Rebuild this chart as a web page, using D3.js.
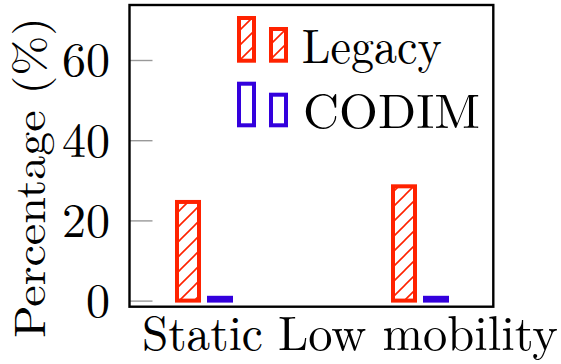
<!DOCTYPE html>
<html><head><meta charset="utf-8">
<script src="https://cdn.jsdelivr.net/npm/d3@7"></script>
<style>html,body{margin:0;padding:0;background:#fff;}svg{display:block;}</style>
</head><body>
<script>
const categories = ["Static", "Low mobility"];
const seriesNames = ["Legacy", "CODIM"];
const legacyValues = [24.6, 28.5];
const codimValues = [0.7, 0.7];
const yTicks = [0, 20, 40, 60];

const W = 561, H = 364;
const FONT = "'Latin Modern Roman','CMU Serif','Liberation Serif','DejaVu Serif',serif";
const RED = "#ff2200", BLUE = "#3300dd";

const svg = d3.select("body").append("svg").attr("width", W).attr("height", H);
const defs = svg.append("defs");
const pat = defs.append("pattern").attr("id", "hatch")
  .attr("patternUnits", "userSpaceOnUse").attr("width", 15).attr("height", 15);
pat.append("path").attr("d", "M-2,2 L2,-2 M0,15 L15,0 M13,17 L17,13")
  .attr("stroke", RED).attr("stroke-width", 1.6);

const frame = {left: 129.5, right: 493.3, top: 5, bottom: 306.7};
const x = d3.scalePoint().domain(categories).range([204, 420]);
const y = d3.scaleLinear().domain([0, 60]).range([300.6, 60]);

// ticks (inside)
const yAxis = d3.axisRight(y).tickValues(yTicks).tickSize(23).tickFormat("");
const ga = svg.append("g").attr("transform", `translate(${frame.left},0)`).call(yAxis);
ga.select(".domain").remove();
ga.selectAll(".tick line").attr("stroke", "#999").attr("stroke-width", 1.4);

svg.append("g").selectAll("text").data(yTicks).join("text")
  .attr("x", 110).attr("y", d => y(d)).attr("dy", "0.34em")
  .attr("text-anchor", "end").attr("font-family", FONT).attr("font-size", 48)
  .text(d => d);

const bw = 22, off = 16, sw = 4;
const series = [
  {name: seriesNames[0], values: legacyValues, color: RED, fill: "url(#hatch)", dx: -off},
  {name: seriesNames[1], values: codimValues, color: BLUE, fill: "#fff", dx: off}
];
series.forEach(s => {
  svg.append("g").selectAll("rect").data(categories).join("rect")
    .attr("x", (c) => x(c) + s.dx - bw / 2)
    .attr("width", bw)
    .attr("y", (c, i) => y(s.values[i]))
    .attr("height", (c, i) => y(0) - y(s.values[i]))
    .attr("fill", s.fill).attr("stroke", s.color).attr("stroke-width", sw);
});

// frame
svg.append("rect").attr("x", frame.left).attr("y", frame.top)
  .attr("width", frame.right - frame.left).attr("height", frame.bottom - frame.top)
  .attr("fill", "none").attr("stroke", "#000").attr("stroke-width", 2.4);

// x labels
const xl = [{w: 121}, {w: 280}];
svg.append("g").selectAll("text").data(categories).join("text")
  .attr("x", (c, i) => i === 0 ? 202.4 : 418).attr("y", 350)
  .attr("text-anchor", "middle").attr("font-family", FONT).attr("font-size", 48)
  .attr("textLength", (c, i) => xl[i].w).attr("lengthAdjust", "spacingAndGlyphs")
  .text(c => c);

// y label
svg.append("text").attr("transform", "translate(45,177.5) rotate(-90)")
  .attr("text-anchor", "middle").attr("font-family", FONT).attr("font-size", 44)
  .attr("textLength", 321).attr("lengthAdjust", "spacingAndGlyphs")
  .text("Percentage (%)");

// legend
const leg = [
  {s: series[0], top1: 18, top2: 29, base: 60.7, ty: 62.7, tw: 140, tx: 301.7},
  {s: series[1], top1: 83.7, top2: 94.7, base: 125.3, ty: 128, tw: 177, tx: 303}
];
leg.forEach(L => {
  const g = svg.append("g");
  g.append("rect").attr("x", 239).attr("y", L.top1).attr("width", 15).attr("height", L.base - L.top1)
    .attr("fill", L.s.fill).attr("stroke", L.s.color).attr("stroke-width", sw);
  g.append("rect").attr("x", 271).attr("y", L.top2).attr("width", 15).attr("height", L.base - L.top2)
    .attr("fill", L.s.fill).attr("stroke", L.s.color).attr("stroke-width", sw);
  g.append("text").attr("x", L.tx).attr("y", L.ty).attr("font-family", FONT).attr("font-size", 48)
    .attr("textLength", L.tw).attr("lengthAdjust", "spacingAndGlyphs").text(L.s.name);
});
</script>
</body></html>
